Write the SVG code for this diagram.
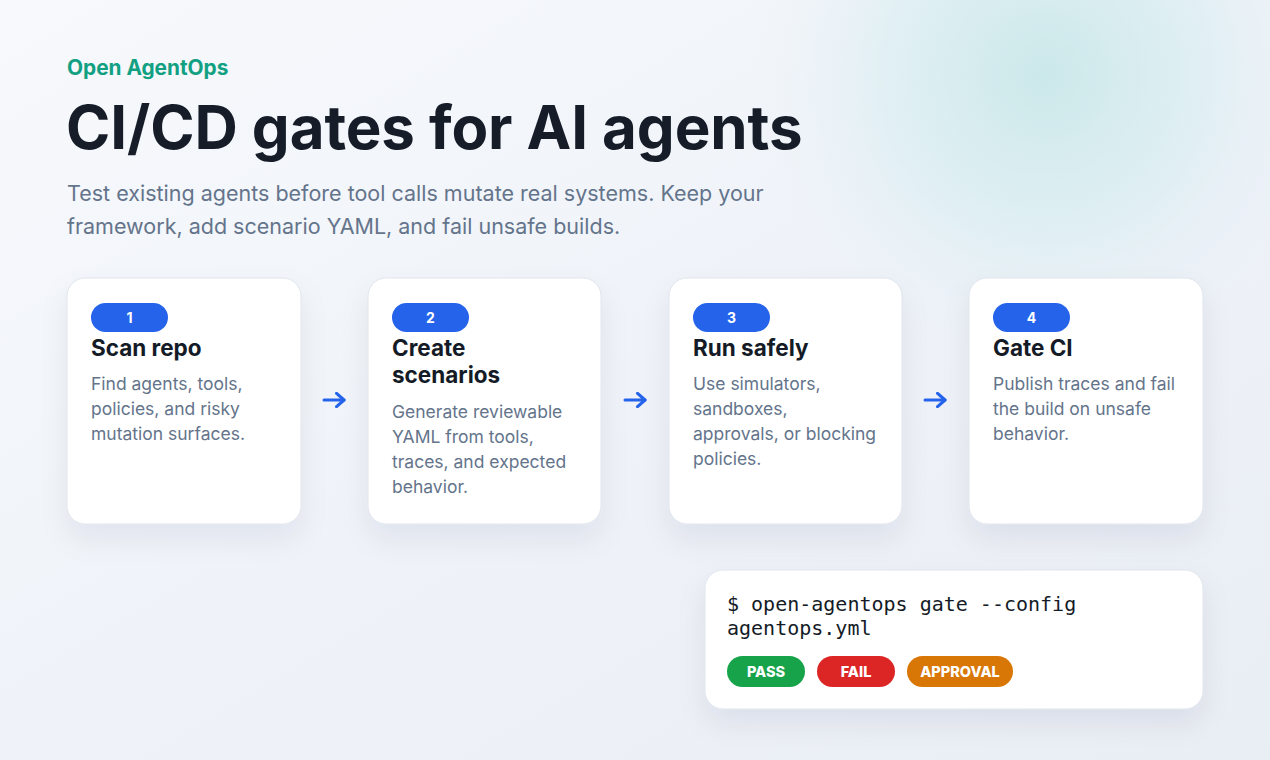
<svg xmlns="http://www.w3.org/2000/svg" width="1270" height="760" viewBox="0 0 1270 760">
  <defs>
    <linearGradient id="bg" x1="0" y1="0" x2="1" y2="1">
      <stop offset="0" stop-color="#f7f9fc"/>
      <stop offset="0.5" stop-color="#eff3f9"/>
      <stop offset="1" stop-color="#e9edf4"/>
    </linearGradient>
    <radialGradient id="glow" cx="1045" cy="75" r="290" gradientUnits="userSpaceOnUse">
      <stop offset="0" stop-color="#cbe8ea" stop-opacity="1"/>
      <stop offset="0.55" stop-color="#d8edf0" stop-opacity="0.65"/>
      <stop offset="1" stop-color="#e8f0f5" stop-opacity="0"/>
    </radialGradient>
    <filter id="shadow" x="-20%" y="-20%" width="140%" height="150%">
      <feDropShadow dx="0" dy="14" stdDeviation="14" flood-color="#1e293b" flood-opacity="0.07"/>
    </filter>
    <marker id="arrow" viewBox="0 0 10 10" refX="6" refY="5" markerWidth="5.5" markerHeight="5.5" orient="auto" markerUnits="strokeWidth">
      <path d="M1.5,1 L6,5 L1.5,9" fill="none" stroke="#2563eb" stroke-width="1.9" stroke-linecap="round" stroke-linejoin="round"/>
    </marker>
  </defs>
  <style>
    .card { fill: #ffffff; stroke: #dfe4ec; stroke-width: 1; filter: url(#shadow); }
    .badge { fill: #2563eb; }
    .badge-t { font-family: Inter, "Liberation Sans", sans-serif; font-weight: 700; font-size: 14px; fill: #ffffff; text-anchor: middle; }
    .title { font-family: Inter, "Liberation Sans", sans-serif; font-weight: 700; font-size: 22.5px; fill: #141b26; }
    .body { font-family: Inter, "Liberation Sans", sans-serif; font-size: 17.5px; fill: #64748b; }
    .conn { fill: none; stroke: #2563eb; stroke-width: 3; stroke-linecap: round; }
    .mono { font-family: "DejaVu Sans Mono", "Liberation Mono", monospace; font-size: 20px; fill: #141b26; }
    .pill-t { font-family: Inter, "Liberation Sans", sans-serif; font-weight: 800; font-size: 14.5px; fill: #ffffff; text-anchor: middle; }
  </style>

  <rect width="1270" height="760" fill="url(#bg)"/>
  <rect width="1270" height="760" fill="url(#glow)"/>

  <g id="header">
    <text x="67" y="75" font-family="Inter, 'Liberation Sans', sans-serif" font-weight="700" font-size="20.8" fill="#12a083">Open AgentOps</text>
    <text x="66" y="149" font-family="Inter, 'Liberation Sans', sans-serif" font-weight="700" font-size="60" fill="#161d29" letter-spacing="-0.1">CI/CD gates for AI agents</text>
    <text font-family="Inter, 'Liberation Sans', sans-serif" font-size="21.5" fill="#64748b">
      <tspan x="67" y="201">Test existing agents before tool calls mutate real systems. Keep your</tspan>
      <tspan x="67" y="234">framework, add scenario YAML, and fail unsafe builds.</tspan>
    </text>
  </g>

  <g id="step1">
    <rect class="card" x="67" y="278" width="234" height="246" rx="18"/>
    <rect class="badge" x="91" y="303" width="77" height="29" rx="14.5"/>
    <text class="badge-t" x="129.5" y="323">1</text>
    <text class="title" x="91" y="356">Scan repo</text>
    <text class="body"><tspan x="91" y="390">Find agents, tools,</tspan><tspan x="91" y="415">policies, and risky</tspan><tspan x="91" y="440">mutation surfaces.</tspan></text>
  </g>

  <g id="step2">
    <rect class="card" x="368" y="278" width="233" height="246" rx="18"/>
    <rect class="badge" x="392" y="303" width="77" height="29" rx="14.5"/>
    <text class="badge-t" x="430.5" y="323">2</text>
    <text class="title"><tspan x="392" y="356">Create</tspan><tspan x="392" y="383">scenarios</tspan></text>
    <text class="body"><tspan x="392" y="418">Generate reviewable</tspan><tspan x="392" y="443">YAML from tools,</tspan><tspan x="392" y="468">traces, and expected</tspan><tspan x="392" y="493">behavior.</tspan></text>
  </g>

  <g id="step3">
    <rect class="card" x="669" y="278" width="233" height="246" rx="18"/>
    <rect class="badge" x="693" y="303" width="77" height="29" rx="14.5"/>
    <text class="badge-t" x="731.5" y="323">3</text>
    <text class="title" x="693" y="356">Run safely</text>
    <text class="body"><tspan x="693" y="390">Use simulators,</tspan><tspan x="693" y="415">sandboxes,</tspan><tspan x="693" y="440">approvals, or blocking</tspan><tspan x="693" y="465">policies.</tspan></text>
  </g>

  <g id="step4">
    <rect class="card" x="969" y="278" width="234" height="246" rx="18"/>
    <rect class="badge" x="993" y="303" width="77" height="29" rx="14.5"/>
    <text class="badge-t" x="1031.5" y="323">4</text>
    <text class="title" x="993" y="356">Gate CI</text>
    <text class="body"><tspan x="993" y="390">Publish traces and fail</tspan><tspan x="993" y="415">the build on unsafe</tspan><tspan x="993" y="440">behavior.</tspan></text>
  </g>

  <g id="connectors">
    <path class="conn" d="M324,400 H344" marker-end="url(#arrow)"/>
    <path class="conn" d="M625,400 H645" marker-end="url(#arrow)"/>
    <path class="conn" d="M925,400 H945" marker-end="url(#arrow)"/>
  </g>

  <g id="terminal">
    <rect class="card" x="705" y="570" width="498" height="139" rx="18"/>
    <text class="mono"><tspan x="727" y="611">$ open-agentops gate --config</tspan><tspan x="727" y="635">agentops.yml</tspan></text>
    <rect x="727" y="656" width="78" height="31" rx="15.5" fill="#16a34a"/>
    <text class="pill-t" x="766" y="677">PASS</text>
    <rect x="817" y="656" width="78" height="31" rx="15.5" fill="#dc2626"/>
    <text class="pill-t" x="856" y="677">FAIL</text>
    <rect x="907" y="656" width="106" height="31" rx="15.5" fill="#d97706"/>
    <text class="pill-t" x="960" y="677">APPROVAL</text>
  </g>
</svg>
